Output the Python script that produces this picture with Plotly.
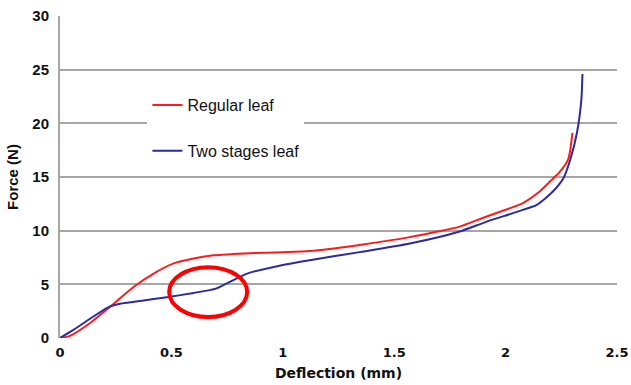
import plotly.graph_objects as go

# Force–deflection curves for the two leaf spring designs
regular_x = [0, 0.045, 0.135, 0.224, 0.33, 0.42, 0.51, 0.60, 0.69, 0.85, 1.0, 1.12,
             1.345, 1.57, 1.69, 1.79, 1.90, 2.02, 2.08, 2.15, 2.20, 2.24, 2.28, 2.29, 2.30]
regular_y = [0, 0.2, 1.4, 2.9, 4.75, 6.0, 6.95, 7.4, 7.7, 7.9, 8.0, 8.1,
             8.67, 9.4, 9.9, 10.35, 11.2, 12.1, 12.6, 13.6, 14.6, 15.4, 16.6, 17.5, 19.1]

twostage_x = [0, 0.06, 0.15, 0.22, 0.27, 0.36, 0.48, 0.60, 0.70, 0.76, 0.84, 1.0, 1.12,
              1.345, 1.57, 1.79, 1.91, 2.05, 2.14, 2.21, 2.26, 2.29, 2.32, 2.34, 2.345]
twostage_y = [0, 0.75, 2.0, 2.9, 3.2, 3.45, 3.8, 4.2, 4.6, 5.2, 6.0, 6.8, 7.25,
              8.0, 8.8, 9.9, 10.8, 11.75, 12.4, 13.6, 14.9, 16.6, 19.1, 22.2, 24.6]

x_ticks = [0, 0.5, 1, 1.5, 2, 2.5]
x_tick_text = ["0", "0.5", "1", "1.5", "2", "2.5"]
y_ticks = [0, 5, 10, 15, 20, 25, 30]

# Highlighted transition region on the two-stage curve
mark_x = [0.49, 0.84]
mark_y = [1.95, 6.6]

FONT = "Liberation Sans, Arial, sans-serif"
WIDE = "DejaVu Sans, Verdana, sans-serif"
GRID = "#a6a6a6"
INK = "#111111"

fig = go.Figure()
fig.add_trace(go.Scatter(x=regular_x, y=regular_y, mode="lines", name="Regular leaf",
                         legendgroup="a",
                         line=dict(color="#ff1a1a", width=2, shape="spline", smoothing=0.6)))
fig.add_trace(go.Scatter(x=twostage_x, y=twostage_y, mode="lines", name="Two stages leaf",
                         legendgroup="b",
                         line=dict(color="#2b2ba0", width=2, shape="spline", smoothing=0.6)))

fig.add_shape(type="circle", xref="x", yref="y",
              x0=mark_x[0], x1=mark_x[1], y0=mark_y[0], y1=mark_y[1],
              line=dict(color="#ff0000", width=4))

fig.update_layout(
    width=631, height=385,
    margin=dict(l=60, r=14, t=16, b=47, autoexpand=False),
    paper_bgcolor="white", plot_bgcolor="white",
    font=dict(family=FONT, color=INK),
    showlegend=True,
    legend=dict(x=0.157, y=0.776, xanchor="left", yanchor="top",
                bgcolor="white", tracegroupgap=22,
                font=dict(size=16, family=FONT, color=INK)),
    xaxis=dict(range=[0, 2.5], tickvals=x_ticks,
               ticktext=[f"<b>{t}</b>" for t in x_tick_text],
               showgrid=False, zeroline=False, showline=False, automargin=False,
               ticklabelstandoff=5,
               tickfont=dict(size=13, family=WIDE, color=INK, weight="bold"),
               title=dict(text="<b>Deflection (mm)</b>",
                          font=dict(size=14, family=WIDE, color=INK),
                          standoff=9)),
    yaxis=dict(range=[0, 30], tickvals=y_ticks,
               ticktext=[f"<b>{v}</b>" for v in y_ticks],
               showgrid=True, gridcolor=GRID, gridwidth=2, automargin=False,
               zeroline=False, showline=True, linecolor=GRID, linewidth=2,
               ticklabelstandoff=6,
               tickfont=dict(size=15, family=FONT, color=INK, weight="bold"),
               title=dict(text="<b>Force (N)</b>",
                          font=dict(size=15, family=FONT, color=INK),
                          standoff=10)),
)

fig.write_html("out.html")
